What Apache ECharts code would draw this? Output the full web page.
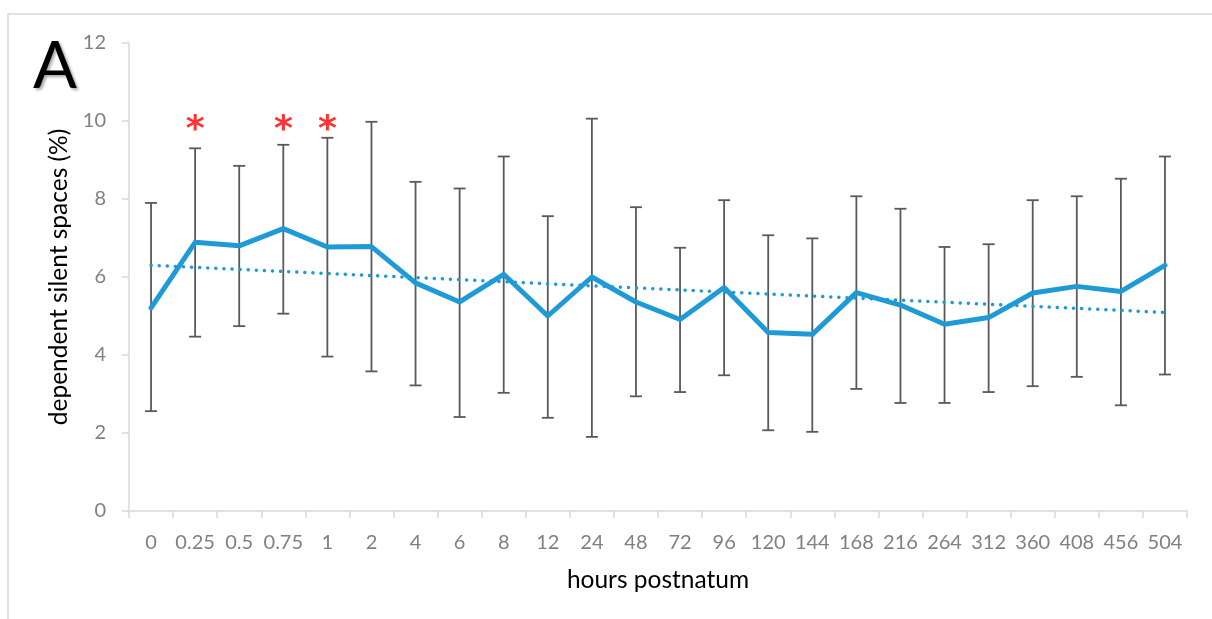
<!DOCTYPE html>
<html>
<head>
<meta charset="utf-8">
<script src="https://cdn.jsdelivr.net/npm/echarts@6/dist/echarts.min.js"></script>
<style>
html,body{margin:0;padding:0;background:#fff;}
#chart{width:1212px;height:619px;}
</style>
</head>
<body>
<div id="chart"></div>
<script>
const categories = ['0','0.25','0.5','0.75','1','2','4','6','8','12','24','48','72','96','120','144','168','216','264','312','360','408','456','504'];
const means = [5.21,6.89,6.80,7.24,6.77,6.78,5.85,5.36,6.07,5.00,6.00,5.36,4.91,5.73,4.58,4.53,5.60,5.28,4.79,4.96,5.59,5.76,5.63,6.30];
const upperBars = [7.90,9.30,8.85,9.39,9.57,9.98,8.44,8.27,9.09,7.56,10.06,7.79,6.75,7.97,7.07,6.99,8.07,7.75,6.77,6.84,7.97,8.07,8.52,9.09];
const lowerBars = [2.56,4.47,4.74,5.06,3.96,3.58,3.22,2.41,3.03,2.39,1.90,2.94,3.05,3.48,2.07,2.03,3.13,2.77,2.77,3.05,3.20,3.44,2.71,3.50];
const trendStart = 6.30;
const trendEnd = 5.09;
const asteriskCats = ['0.25','0.75','1'];
const asteriskLevel = 9.75;
const yTicks = [0,2,4,6,8,10,12];

const chart = echarts.init(document.getElementById('chart'));
const FONT = 'Lato';
const blue = '#1e9bd7';

const errData = categories.map((c,i)=>[i, upperBars[i], lowerBars[i]]);

chart.setOption({
  animation:false,
  backgroundColor:'#fff',
  graphic:[
    {type:'rect', shape:{x:8,y:14,width:1230,height:640}, style:{fill:'none', stroke:'#d9d9d9', lineWidth:1.5}, silent:true},
    {type:'text', left:33, top:35, style:{text:'A', font:'65px '+FONT, fill:'#000', textShadowColor:'rgba(0,0,0,0.35)', textShadowBlur:3, textShadowOffsetX:2, textShadowOffsetY:2}}
  ],
  grid:{left:129, right:25, top:43, bottom:108, containLabel:false},
  xAxis:{
    type:'category', data:categories, boundaryGap:true,
    name:'hours postnatum', nameLocation:'middle', nameGap:57,
    nameTextStyle:{fontFamily:FONT, fontSize:24.5, color:'#000'},
    axisLine:{lineStyle:{color:'#d9d9d9', width:1.5}},
    axisTick:{show:true, length:7, lineStyle:{color:'#d9d9d9', width:1.5}},
    axisLabel:{fontFamily:FONT, fontSize:20, color:'#808080', margin:22, interval:0}
  },
  yAxis:{
    type:'value', min:yTicks[0], max:yTicks[yTicks.length-1], interval:2,
    name:'dependent silent spaces (%)', nameLocation:'middle', nameGap:56,
    nameTextStyle:{fontFamily:FONT, fontSize:24.5, color:'#000'},
    axisLine:{show:true, lineStyle:{color:'#d9d9d9', width:1.5}},
    axisTick:{show:true, length:7, lineStyle:{color:'#d9d9d9', width:1.5}},
    axisLabel:{fontFamily:FONT, fontSize:20, color:'#808080', margin:23},
    splitLine:{show:false}
  },
  series:[
    {
      type:'custom', z:2,
      data:errData,
      encode:{x:0, y:[1,2]},
      renderItem:function(params, api){
        const hi = api.coord([api.value(0), api.value(1)]);
        const lo = api.coord([api.value(0), api.value(2)]);
        const w = 6;
        const st = {stroke:'#595959', lineWidth:1.8};
        return {type:'group', children:[
          {type:'line', shape:{x1:hi[0],y1:hi[1],x2:lo[0],y2:lo[1]}, style:st},
          {type:'line', shape:{x1:hi[0]-w,y1:hi[1],x2:hi[0]+w,y2:hi[1]}, style:st},
          {type:'line', shape:{x1:lo[0]-w,y1:lo[1],x2:lo[0]+w,y2:lo[1]}, style:st}
        ]};
      }
    },
    {
      type:'line', z:3,
      data:[[categories[0], trendStart],[categories[categories.length-1], trendEnd]],
      symbol:'none',
      lineStyle:{color:blue, width:3.5, type:[0.1,8], cap:'round'}
    },
    {
      type:'line', z:4,
      data:means,
      symbol:'none',
      lineStyle:{color:blue, width:5, join:'round', cap:'round'}
    },
    {
      type:'scatter', z:5,
      data:asteriskCats.map(c=>[c, asteriskLevel]),
      symbolSize:1,
      itemStyle:{color:'rgba(0,0,0,0)'},
      label:{show:true, position:'inside', formatter:'*', fontFamily:'DejaVu Sans', fontSize:36, fontWeight:'bold', color:'#ff0000'}
    }
  ]
});
</script>
</body>
</html>
